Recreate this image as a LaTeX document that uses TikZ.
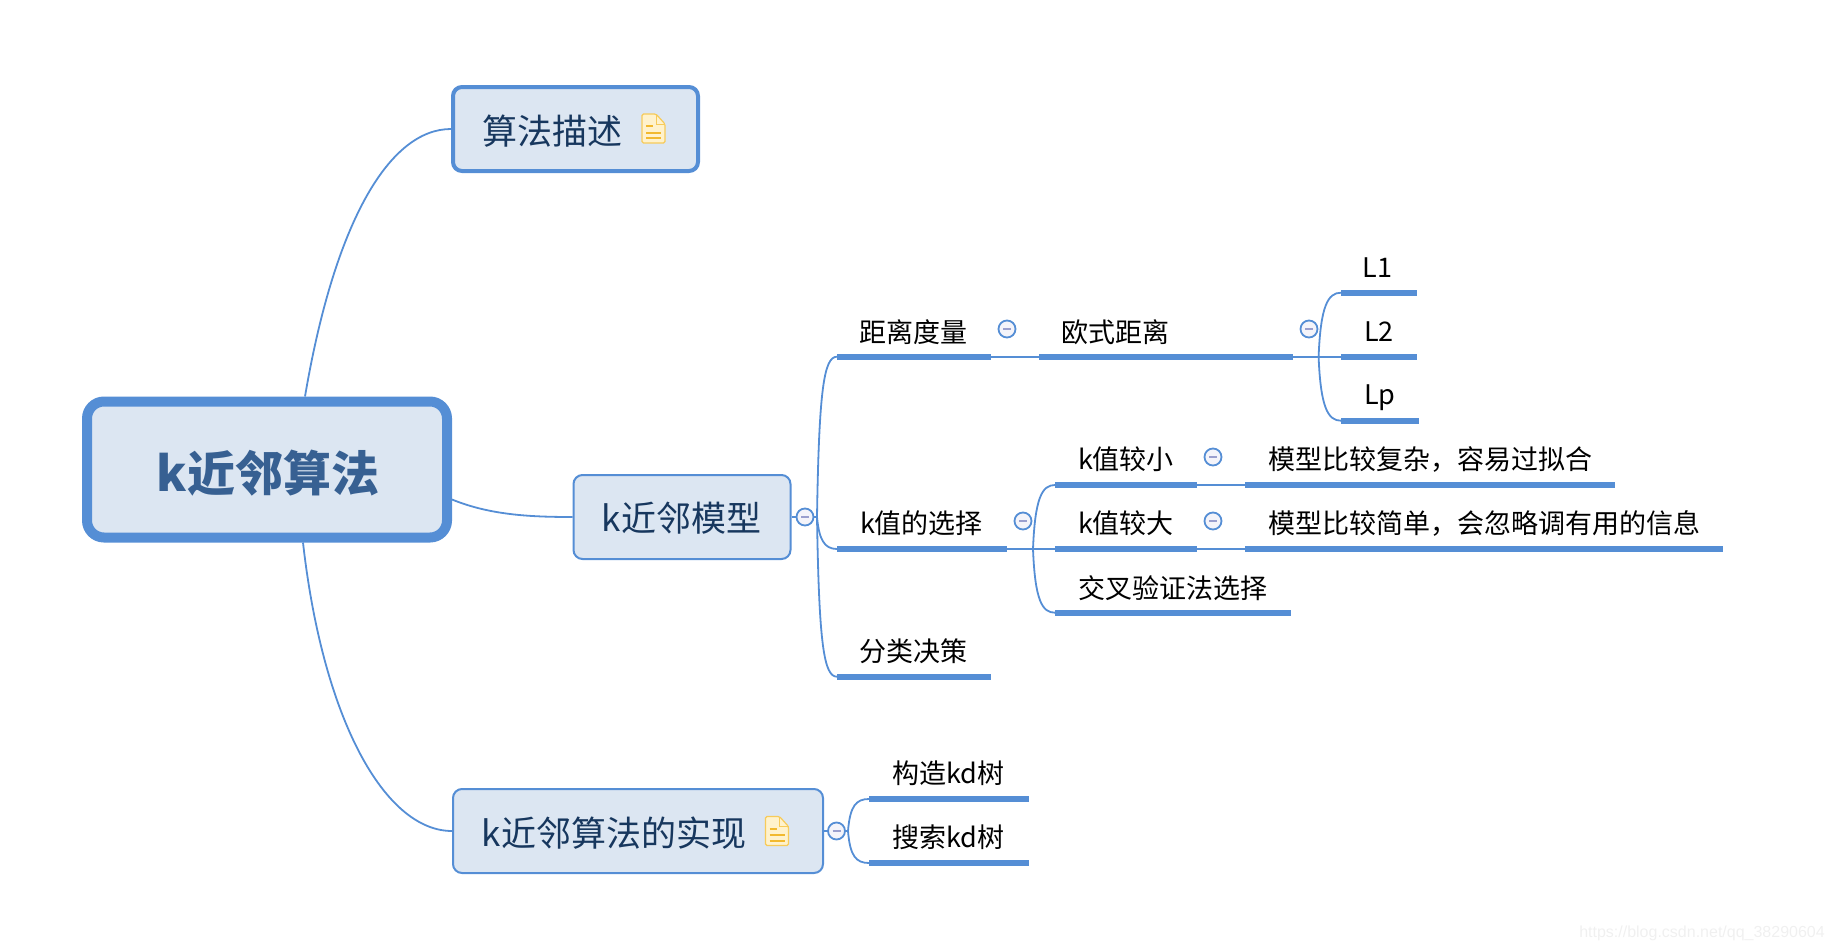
\documentclass[tikz,border=0pt]{standalone}
\usepackage{fontspec}
\setmainfont{Noto Sans CJK SC}
\newfontfamily\wmfont{Liberation Sans}
\definecolor{lineblue}{HTML}{558ED5}
\definecolor{boxfill}{HTML}{DCE6F2}
\definecolor{rootink}{HTML}{376092}
\definecolor{boxink}{HTML}{17375E}
\definecolor{btnfill}{HTML}{F4F4FA}
\definecolor{btnminus}{HTML}{9A9FCE}
\definecolor{docfill}{HTML}{FFF2CC}
\definecolor{docedge}{HTML}{F7CB5A}
\definecolor{docline}{HTML}{F2B92E}
\tikzset{
  x=1pt,y=-1pt,
  rootbox/.style={draw=lineblue,fill=boxfill,rectangle,rounded corners=17pt,line width=10pt,inner sep=0pt,
    minimum width=360pt,minimum height=136pt},
  mainbox/.style={draw=lineblue,fill=boxfill,rectangle,rounded corners=9pt,line width=2pt,inner sep=0pt},
  notebox/.style={draw=lineblue,fill=boxfill,rectangle,rounded corners=9pt,line width=4pt,inner sep=0pt},
  roottext/.style={inner sep=0pt,text=rootink,font=\fontsize{48}{48}\selectfont\bfseries},
  boxtext/.style={inner sep=0pt,text=boxink,font=\fontsize{35}{35}\selectfont},
  leaftext/.style={inner sep=0pt,text=black,font=\fontsize{27}{27}\selectfont},
  topicbar/.style={fill=lineblue,rectangle,inner sep=0pt,outer sep=0pt,minimum height=6pt,anchor=west},
  conn/.style={draw=lineblue,line width=1.8pt},
  btn/.style={circle,draw=lineblue,fill=btnfill,line width=1.8pt,inner sep=0pt,minimum size=17pt},
  btnbar/.style={draw=btnminus,line width=1.6pt},
}
\newcommand{\btnat}[3]{%
  \node[btn] (#1) at (#2,#3) {};
  \draw[btnbar] ([xshift=-4pt]#1.center) -- ([xshift=4pt]#1.center);}
\newcommand{\branchto}[3]{\draw[conn] (#1) .. controls +(2,#3) and +(-13,0) .. (#2.west);}
\newcommand{\docicon}[2]{%
  \begin{scope}[shift={(#1,#2)}]
    \draw[draw=docedge,fill=docfill,line width=1.2pt,rounded corners=1.5pt]
      (0,0) -- (14,0) -- (23,10) -- (23,29) -- (0,29) -- cycle;
    \draw[draw=docedge,line width=1pt] (14,0) -- (14,10) -- (23,10);
    \draw[docline,line width=2pt] (4,12) -- (11,12) (4,18.5) -- (19,18.5) (4,24) -- (19,24);
  \end{scope}}
\begin{document}
\begin{tikzpicture}
\useasboundingbox (0,0) rectangle (1833,950);
% boxes
\node[rootbox] (root) at (267,469.5) {};
\node[roottext] (roottx) at (268,473) {k近邻算法};
\node[notebox,minimum width=245pt,minimum height=84pt] (desc) at (575.5,129) {};
\node[boxtext] (desctx) at (552,131.5) {算法描述};
\docicon{642}{114}
\node[mainbox,minimum width=217pt,minimum height=84pt] (model) at (682,517) {};
\node[boxtext] (modeltx) at (681.5,518.5) {k近邻模型};
\node[mainbox,minimum width=370pt,minimum height=84pt] (impl) at (638,831) {};
\node[boxtext] (impltx) at (614,833.5) {k近邻算法的实现};
\docicon{765.5}{816.5}
% first-level topics
\node[topicbar,minimum width=154pt] (dbar) at (837,356.7) {};
\node[leaftext] (dtx) at (913.5,332.2) {距离度量};
\node[topicbar,minimum width=170pt] (kbar) at (837,549) {};
\node[leaftext] (ktx) at (921.5,523.2) {k值的选择};
\node[topicbar,minimum width=154pt] (fbar) at (837,676.7) {};
\node[leaftext] (ftx) at (913.5,651.2) {分类决策};
% second level
\node[topicbar,minimum width=254pt] (obar) at (1039,356.7) {};
\node[leaftext] (otx) at (1115.5,332.2) {欧式距离};
\node[topicbar,minimum width=76pt] (l1bar) at (1341,292.7) {};
\node[leaftext] (l1tx) at (1377.5,267.5) {L1};
\node[topicbar,minimum width=76pt] (l2bar) at (1341,356.7) {};
\node[leaftext] (l2tx) at (1379,332) {L2};
\node[topicbar,minimum width=78pt] (lpbar) at (1341,420.7) {};
\node[leaftext] (lptx) at (1380,398) {Lp};
\node[topicbar,minimum width=142pt] (ksbar) at (1055,485) {};
\node[leaftext] (kstx) at (1126,459.2) {k值较小};
\node[topicbar,minimum width=142pt] (klbar) at (1055,549) {};
\node[leaftext] (kltx) at (1126,523.2) {k值较大};
\node[topicbar,minimum width=236pt] (xbar) at (1055,612.7) {};
\node[leaftext] (xtx) at (1172.5,587.7) {交叉验证法选择};
\node[topicbar,minimum width=370.5pt] (sbar) at (1244.5,485) {};
\node[leaftext] (stx) at (1430,459.2) {模型比较复杂，容易过拟合};
\node[topicbar,minimum width=478.5pt] (lbar) at (1244.5,549) {};
\node[leaftext] (ltx) at (1484,523.2) {模型比较简单，会忽略调有用的信息};
\node[topicbar,minimum width=160pt] (cbar) at (869,799) {};
\node[leaftext] (ctx) at (948.5,773.2) {构造kd树};
\node[topicbar,minimum width=160pt] (sebar) at (869,863) {};
\node[leaftext] (setx) at (948.5,837.2) {搜索kd树};
% root connectors
\draw[conn] ([xshift=38pt]root.north) .. controls (335,220) and (390,129) .. (desc.west);
\draw[conn] ([xshift=36pt]root.south) .. controls (323,720) and (385,831) .. (impl.west);
\draw[conn] ([yshift=-30pt]root.east) .. controls (490,515) and (530,517) .. (model.west);
% collapse buttons
\btnat{bmodel}{805}{517}
\btnat{bimpl}{836.5}{831}
\btnat{bd}{1007}{329}
\btnat{bo}{1309}{329}
\btnat{bk}{1023}{521}
\btnat{bks}{1213}{457}
\btnat{bkl}{1213}{521}
\coordinate (omodel) at (817,517);
\coordinate (oo) at (1318.6,356.7);
\coordinate (ok) at (1033,549);
\coordinate (oimpl) at (848,831);
% branches
\draw[conn] (model.east) -- (bmodel);
\draw[conn] (bmodel) -- (omodel);
\branchto{omodel}{dbar}{-128}
\branchto{omodel}{kbar}{22}
\branchto{omodel}{fbar}{128}
\draw[conn] (dbar.east) -- (obar.west);
\draw[conn] (obar.east) -- (l2bar.west);
\branchto{oo}{l1bar}{-51}
\branchto{oo}{lpbar}{51}
\draw[conn] (kbar.east) -- (klbar.west);
\branchto{ok}{ksbar}{-51}
\branchto{ok}{xbar}{51}
\draw[conn] (ksbar.east) -- (sbar.west);
\draw[conn] (klbar.east) -- (lbar.west);
\draw[conn] (impl.east) -- (bimpl);
\draw[conn] (bimpl) -- (oimpl);
\branchto{oimpl}{cbar}{-25}
\branchto{oimpl}{sebar}{25}
% watermark
\node[inner sep=0pt,text=black!6,font=\wmfont\fontsize{16}{16}\selectfont] (wm) at (1702,933) {https://blog.csdn.net/qq\_38290604};
\end{tikzpicture}
\end{document}
